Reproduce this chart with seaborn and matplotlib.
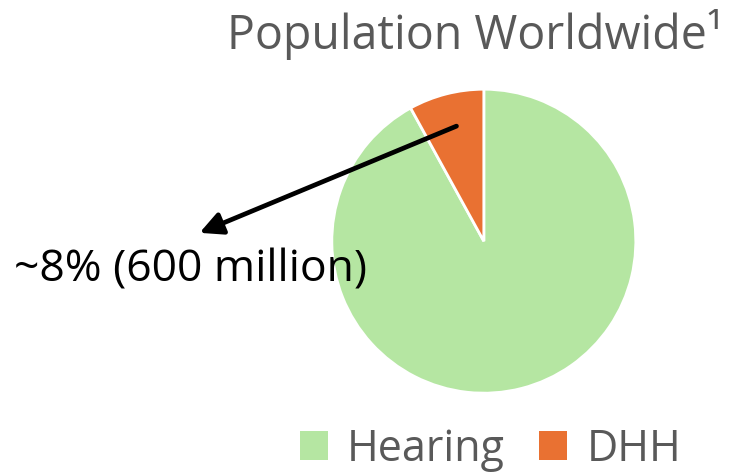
import matplotlib
matplotlib.use("Agg")
import matplotlib.pyplot as plt
from matplotlib.patches import Patch
import seaborn as sns

categories = ["Hearing", "DHH"]
shares = [92, 8]
colors = ["#b5e6a2", "#e97132"]
title = "Population Worldwide\u00b9"
callout = "~8% (600 million)"

sns.set_theme(style="white")
plt.rcParams["font.family"] = ["Open Sans", "DejaVu Sans"]

fig = plt.figure(figsize=(7.39, 4.72), dpi=100)
ax = fig.add_axes([0.449, 0.167, 0.4114, 0.644])

wedges, _ = ax.pie(shares, colors=colors, startangle=90, counterclock=False,
                   radius=1.0, wedgeprops=dict(edgecolor="white", linewidth=2))
ax.set_xlim(-1, 1)
ax.set_ylim(-1, 1)
ax.set_aspect("equal")
ax.axis("off")

# arrow from the DHH slice out to its callout
ax.annotate("", xy=(-1.87, 0.055), xytext=(-0.18, 0.757),
            arrowprops=dict(arrowstyle="-|>", lw=3.4, color="black",
                            mutation_scale=34, shrinkA=0, shrinkB=0),
            annotation_clip=False)
ax.text(-1.93, -0.19, callout, fontsize=32, color="black",
        ha="center", va="center", clip_on=False, zorder=5)

fig.text(0.979, 0.926, title, fontsize=33.5, color="#595959",
         ha="right", va="center")

handles = [Patch(facecolor=c, edgecolor="none") for c in colors]
fig.legend(handles, categories, loc="center", bbox_to_anchor=(0.664, 0.048),
           ncol=2, frameon=False, fontsize=31, labelcolor="#595959",
           handlelength=0.65, handleheight=0.65, handletextpad=0.45,
           columnspacing=0.8)

fig.savefig("out.png", dpi=100)
